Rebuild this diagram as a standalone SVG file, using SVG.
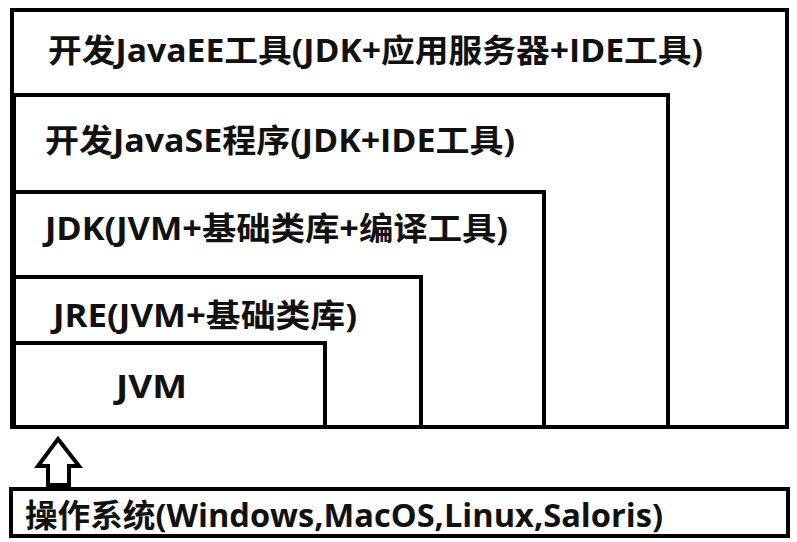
<svg xmlns="http://www.w3.org/2000/svg" width="797" height="542" viewBox="0 0 797 542">
<style>
.box{fill:none;stroke:#000;stroke-width:4}
.lbl{font-family:"Open Sans","Noto Sans CJK SC",sans-serif;font-weight:bold;font-size:32px;fill:#111}
</style>
<rect width="797" height="542" fill="#fff"/>
<g id="javaee">
<rect class="box" x="12" y="10" width="775" height="417"/>
<text class="lbl" x="48" y="62" textLength="655" lengthAdjust="spacingAndGlyphs">开发JavaEE工具(JDK+应用服务器+IDE工具)</text>
</g>
<g id="javase">
<rect class="box" x="14" y="95" width="654" height="332"/>
<text class="lbl" x="45" y="152" textLength="470" lengthAdjust="spacingAndGlyphs">开发JavaSE程序(JDK+IDE工具)</text>
</g>
<g id="jdk">
<rect class="box" x="14" y="192" width="530" height="235"/>
<text class="lbl" x="45" y="240" textLength="463" lengthAdjust="spacingAndGlyphs">JDK(JVM+基础类库+编译工具)</text>
</g>
<g id="jre">
<rect class="box" x="14" y="277" width="407" height="150"/>
<text class="lbl" x="53" y="327" textLength="304" lengthAdjust="spacingAndGlyphs">JRE(JVM+基础类库)</text>
</g>
<g id="jvm">
<rect class="box" x="14" y="343" width="311" height="84"/>
<text class="lbl" x="116" y="398" textLength="71" lengthAdjust="spacingAndGlyphs">JVM</text>
</g>
<g id="os">
<rect class="box" x="11" y="489" width="777" height="47"/>
<text class="lbl" x="25" y="527" textLength="638" lengthAdjust="spacingAndGlyphs">操作系统(Windows,MacOS,Linux,Saloris)</text>
</g>
<g id="connectors">
<polygon points="58,439 79,466 69,466 69,485 48,485 48,466 38,466" fill="#fff" stroke="#000" stroke-width="4" stroke-linejoin="miter"/>
</g>
</svg>
